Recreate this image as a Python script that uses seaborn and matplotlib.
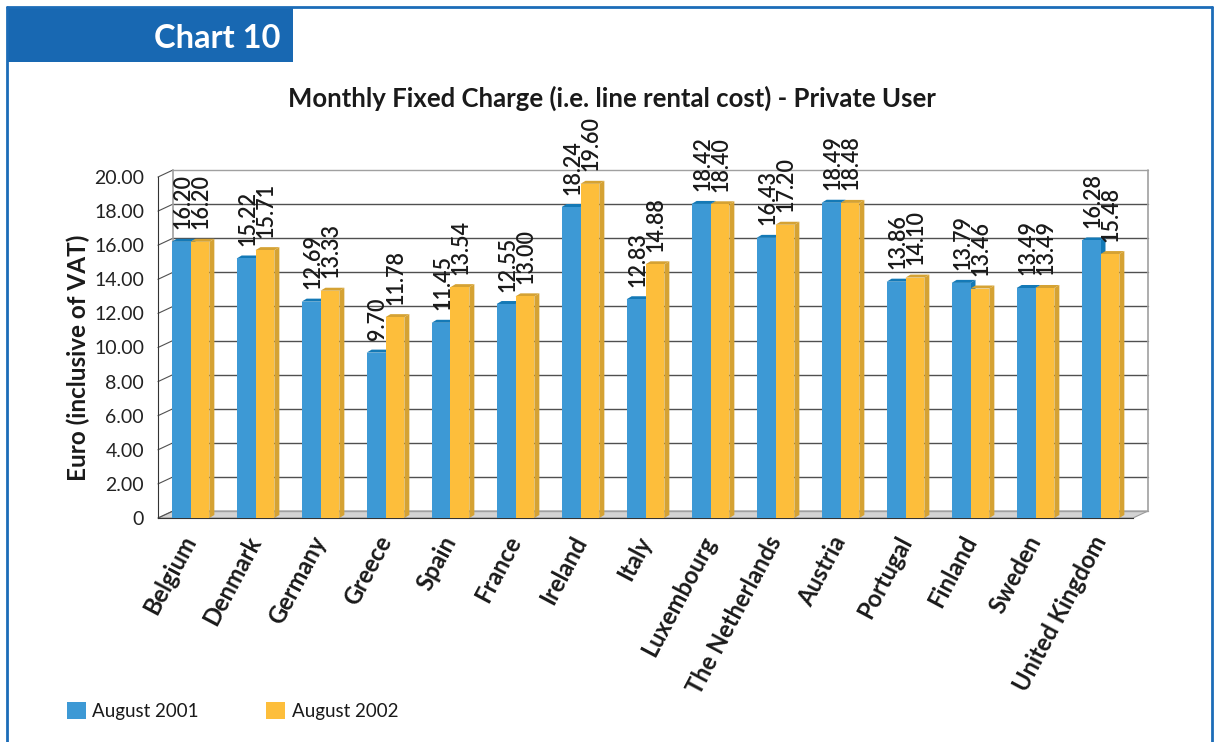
import pandas as pd
import matplotlib.pyplot as plt
import matplotlib.transforms as mtransforms
from matplotlib.patches import Polygon, Rectangle, Patch
from matplotlib.lines import Line2D
import seaborn as sns

# Data
countries = ["Belgium", "Denmark", "Germany", "Greece", "Spain", "France", "Ireland",
             "Italy", "Luxembourg", "The Netherlands", "Austria", "Portugal",
             "Finland", "Sweden", "United Kingdom"]
aug_2001 = [16.20, 15.22, 12.69, 9.70, 11.45, 12.55, 18.24, 12.83, 18.42, 16.43,
            18.49, 13.86, 13.79, 13.49, 16.28]
aug_2002 = [16.20, 15.71, 13.33, 11.78, 13.54, 13.00, 19.60, 14.88, 18.40, 17.20,
            18.48, 14.10, 13.46, 13.49, 15.48]
series_names = ["August 2001", "August 2002"]
yticks = [0, 2, 4, 6, 8, 10, 12, 14, 16, 18, 20]

df = pd.DataFrame({
    "country": countries * 2,
    "value": aug_2001 + aug_2002,
    "period": [series_names[0]] * len(countries) + [series_names[1]] * len(countries),
})

blue = "#3D99D5"
yellow = "#FDBE3B"
blue_dark = "#1479B6"
yellow_dark = "#D5A233"
frame_blue = "#1C6CB8"

sns.set_style("white")
plt.rcParams["font.family"] = ["Lato", "DejaVu Sans"]

W, H = 1215, 742
fig = plt.figure(figsize=(W / 100, H / 100), dpi=100)

# front plane of the pseudo-3D axes
x0, x1, y0, y1 = 158, 1133, 518, 177
ax = fig.add_axes([x0 / W, 1 - y0 / H, (x1 - x0) / W, (y0 - y1) / H])
ax.patch.set_alpha(0)

sns.barplot(data=df, x="country", y="value", hue="period",
            palette=[blue, yellow], width=0.58, saturation=1, linewidth=0,
            legend=False, ax=ax, zorder=3)
ax.set_xlim(-0.5, len(countries) - 0.5)
ax.set_ylim(0, 20)

# depth of back wall (px)
dx, dy = 15, 7
to_px = ax.transData.transform
idt = mtransforms.IdentityTransform()

xl, xr = -0.5, len(countries) - 0.5
# floor
fl = to_px([(xl, 0), (xr, 0)])
ax.add_patch(Polygon([fl[0], fl[1], fl[1] + [dx, dy], fl[0] + [dx, dy]],
                     closed=True, facecolor="#D3D3D3", edgecolor="#9A9A9A",
                     lw=0.8, transform=idt, clip_on=False, zorder=0.5))
# back wall grid lines and side wall lines
for v in yticks:
    a, b = to_px([(xl, v), (xr, v)])
    col = "#A0A0A0" if v in (0, 20) else "#505050"
    ax.add_line(Line2D([a[0] + dx, b[0] + dx], [a[1] + dy, b[1] + dy], color=col,
                       lw=1.0, transform=idt, clip_on=False, zorder=0.6))
    ax.add_line(Line2D([a[0], a[0] + dx], [a[1], a[1] + dy], color="#505050",
                       lw=0.8, transform=idt, clip_on=False, zorder=0.6))
for xv in (xl, xr):
    a, b = to_px([(xv, 0), (xv, 20)])
    ax.add_line(Line2D([a[0] + dx, b[0] + dx], [a[1] + dy, b[1] + dy], color="#A0A0A0",
                       lw=1.2, transform=idt, clip_on=False, zorder=0.6))

# bar side and top faces
bdx, bdy = 5, 3
for i, bar in enumerate(ax.patches[:2 * len(countries)]):
    if bar.get_height() <= 0:
        continue
    dark = blue_dark if i < len(countries) else yellow_dark
    (bx0, by0), (bx1, by1) = to_px([(bar.get_x(), 0),
                                    (bar.get_x() + bar.get_width(), bar.get_height())])
    side = [(bx1, by0), (bx1 + bdx, by0 + bdy), (bx1 + bdx, by1 + bdy), (bx1, by1)]
    top = [(bx0, by1), (bx1, by1), (bx1 + bdx, by1 + bdy), (bx0 + bdx, by1 + bdy)]
    for poly in (side, top):
        ax.add_patch(Polygon(poly, closed=True, facecolor=dark, edgecolor="none",
                             transform=idt, clip_on=False, zorder=2))

# value labels
for bar in ax.patches[:2 * len(countries)]:
    h = bar.get_height()
    ax.annotate(f"{h:.2f}", (bar.get_x() + bar.get_width() / 2, h),
                xytext=(1, 9), textcoords="offset points", rotation=90,
                ha="center", va="bottom", fontsize=15.5, fontweight="semibold",
                color="#1a1a1a", annotation_clip=False)

# axes styling
for s in ("top", "right"):
    ax.spines[s].set_visible(False)
ax.spines["left"].set_color("#333333")
ax.spines["bottom"].set_color("#333333")
ax.set_yticks(yticks)
ax.set_yticklabels(["0" if v == 0 else f"{v:.2f}" for v in yticks])
ax.tick_params(axis="y", direction="out", length=6, width=0.8, color="#333333",
               labelsize=14, labelcolor="#222222", pad=4)
ax.set_xticks(range(len(countries)))
ax.set_xticklabels(countries, rotation=62, ha="right", va="center",
                   rotation_mode="anchor", fontsize=17, fontweight="bold",
                   color="#1a1a1a")
ax.tick_params(axis="x", length=0, pad=14)
ax.set_xticks([i + 0.5 for i in range(len(countries))], minor=True)
ax.tick_params(axis="x", which="minor", direction="out", length=6, width=0.8,
               color="#333333")
ax.set_xlabel("")
ax.set_ylabel("Euro (inclusive of VAT)", fontsize=17.5, fontweight="bold",
              color="#1a1a1a", labelpad=10)
ax.yaxis.set_label_coords(-0.07, 0.47)

# title
fig.text(612 / W, 1 - 98 / H, "Monthly Fixed Charge (i.e. line rental cost) - Private User",
         ha="center", va="center", fontsize=18.5, fontweight="bold", color="#1a1a1a")

# frame and header
fig.add_artist(Line2D([7 / W, 7 / W], [0, 1 - 7 / H], color=frame_blue, lw=2))
fig.add_artist(Line2D([7 / W, 1212 / W], [1 - 7 / H, 1 - 7 / H], color=frame_blue, lw=2))
fig.add_artist(Line2D([1212 / W, 1212 / W], [0, 1 - 7 / H], color=frame_blue, lw=2))
fig.add_artist(Rectangle((7 / W, 1 - 62 / H), 286 / W, 55 / H, facecolor="#1868B2",
                         edgecolor="none", transform=fig.transFigure))
fig.text(217 / W, 1 - 38 / H, "Chart 10", ha="center", va="center", fontsize=23.5,
         fontweight="bold", color="white")

# legend
handles = [Patch(facecolor=blue, edgecolor="none"), Patch(facecolor=yellow, edgecolor="none")]
fig.legend(handles, series_names, loc="center left", bbox_to_anchor=(50 / W, 1 - 711 / H),
           ncol=2, frameon=False, fontsize=13.5, handlelength=1.0, handleheight=1.0,
           handletextpad=0.35, columnspacing=3.6, labelcolor="#1a1a1a")

fig.savefig("out.png", dpi=100)
